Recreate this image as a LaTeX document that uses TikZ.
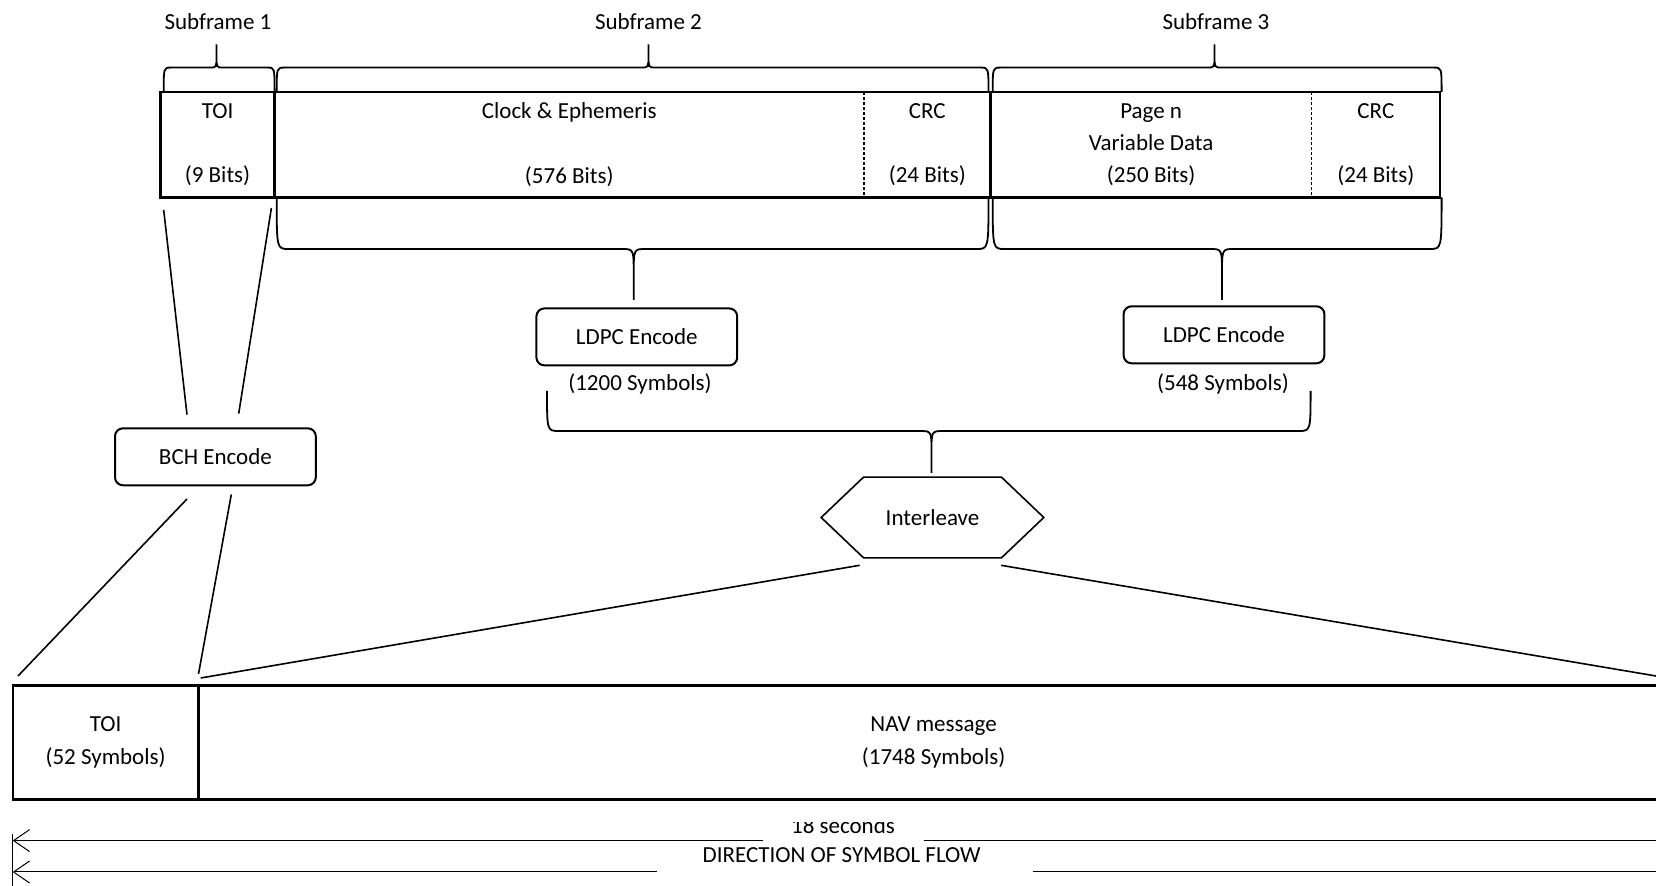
\documentclass[tikz,border=0pt]{standalone}
\usepackage{fontspec}
\setmainfont{Carlito}
\usetikzlibrary{positioning,arrows.meta}

% brace in the Word style: x1, x2, xtip, yend, ybar, ytip, rounding
\newcommand{\wbrace}[7]{%
  \draw[bracket] (#1,#4) .. controls (#1,#5) .. ({#1+#7},#5) -- ({#3-#7},#5)
    .. controls (#3,#5) .. (#3,{#5+0.5*(#6-#5)}) -- (#3,#6) -- (#3,{#5+0.5*(#6-#5)})
    .. controls (#3,#5) .. ({#3+#7},#5) -- ({#2-#7},#5) .. controls (#2,#5) .. (#2,#4);}

\tikzset{
  field/.style={inner sep=0pt, outer sep=0pt, minimum height=52.75pt, align=center},
  frame/.style={line width=1.2pt},
  divider/.style={line width=0.7pt, dash pattern=on 1.5pt off 1pt},
  coder/.style={draw, line width=1pt, rounded corners=4pt, minimum width=100.4pt,
    minimum height=28.5pt, inner sep=0pt},
  feed/.style={line width=0.8pt},
  bracket/.style={line width=0.9pt},
  flow/.style={line width=0.5pt, -{Straight Barb[length=8pt,width=11pt]}},
}

\begin{document}
\begin{tikzpicture}[x=0.5pt, y=-0.5pt, font=\fontsize{11.5}{16.1}\selectfont]

	\useasboundingbox (0,0) rectangle (1656,886);

	% Message fields

	\node[field, anchor=north west, minimum width=57.05pt] (toi) at (160.5,92) {TOI\\[16.1pt](9 Bits)};
	\node[field, minimum width=294.7pt, right=0pt of toi] (clock) {Clock \& Ephemeris\\[16.1pt](576 Bits)};
	\node[field, minimum width=63.3pt, right=0pt of clock] (crca) {CRC\\[16.1pt](24 Bits)};
	\node[field, minimum width=160.55pt, right=0pt of crca] (page) {Page n\\Variable Data\\(250 Bits)};
	\node[field, minimum width=64.15pt, right=0pt of page] (crcb) {CRC\\[16.1pt](24 Bits)};

	\draw[frame] (toi.north west) rectangle (toi.south east);
	\draw[frame] (clock.north west) rectangle (crca.south east);
	\draw[frame] (page.north west) rectangle (crcb.south east);
	\draw[divider] (clock.north east) -- (clock.south east);
	\draw[divider] (page.north east) -- (page.south east);

	% Subframe braces

	\node (sfa) at (218,21.5) {Subframe 1};
	\node (sfb) at (648.5,21.5) {Subframe 2};
	\node (sfc) at (1216,21.5) {Subframe 3};
	\wbrace{163.7}{274.6}{216.5}{92}{67.6}{44.4}{7}
	\wbrace{276.7}{988.5}{648.5}{92}{67.6}{44.4}{8}
	\wbrace{992.7}{1441.6}{1214.5}{92}{67.6}{44.4}{8}

	\wbrace{276.7}{988.5}{633.7}{197.5}{249}{300}{12}
	\wbrace{992.7}{1441.6}{1222}{197.5}{249}{300}{12}
	\wbrace{547}{1310.6}{931.5}{390.8}{431}{473}{12}

	% Encoders

	\node[coder] (ldpca) at (636.8,336.9) {LDPC Encode};
	\node (syma) at (640,384) {(1200 Symbols)};
	\node[coder] (ldpcb) at (1224,334.8) {LDPC Encode};
	\node (symb) at (1223,384) {(548 Symbols)};
	\node[coder] (bch) at (215.4,456.8) {BCH Encode};

	\node[minimum width=110.9pt, minimum height=40pt, inner sep=0pt] (ilv) at (932.5,517.5) {Interleave};
	\draw[feed] (ilv.west) -- ([xshift=21.2pt]ilv.north west) -- ([xshift=-21.2pt]ilv.north east)
		-- (ilv.east) -- ([xshift=-21.2pt]ilv.south east) -- ([xshift=21.2pt]ilv.south west) -- cycle;

	% Symbol frame

	\node[draw, frame, anchor=north west, inner sep=0pt, outer sep=0pt, minimum width=92.9pt,
		minimum height=57.05pt, align=center] (toib) at (12.7,685.4) {TOI\\(52 Symbols)};
	\node[right=0pt of toib, inner sep=0pt, outer sep=0pt, minimum width=735.1pt,
		minimum height=57.05pt, align=center] (nav) {NAV message\\(1748 Symbols)};
	\draw[frame] (toib.north east) -- ([xshift=-6.35pt]nav.north east);
	\draw[frame] (toib.south east) -- ([xshift=-6.35pt]nav.south east);

	% Fan lines

	\draw[feed] ([xshift=1.6pt,yshift=-6.25pt]toi.south west) -- ([xshift=36.5pt,yshift=6.35pt]bch.north west);
	\draw[feed] ([xshift=-1.6pt,yshift=-5.25pt]toi.south east) -- ([xshift=62.35pt,yshift=6.85pt]bch.north west);
	\draw[feed] ([xshift=36.5pt,yshift=-6.35pt]bch.south west) -- ([xshift=2.65pt,yshift=4.7pt]toib.north west);
	\draw[feed] ([xshift=58.65pt,yshift=-4.1pt]bch.south west) -- ([yshift=5.7pt]toib.north east);
	\draw[feed] ([xshift=-36.4pt,yshift=-3.7pt]ilv.south) -- ([xshift=1.1pt,yshift=3.7pt]nav.north west);
	\draw[feed] ([xshift=34.25pt,yshift=-3.7pt]ilv.south) -- ([xshift=-6.35pt,yshift=4.7pt]nav.north east);

	% Flow arrows

	\draw[line width=0.6pt] ([yshift=-17.25pt]toib.south west) -- ++(0,52);
	\begin{scope}
		\clip (700,822.5) rectangle (1000,886);
		\node (secs) at (843,825.5) {18 seconds};
	\end{scope}
	\draw[flow] (763,840.6) -- (12.7,840.6);
	\draw[line width=0.5pt] (923.5,840.6) -- (1656,840.6);
	\node (dir) at (841.7,855.5) {DIRECTION OF SYMBOL FLOW};
	\draw[flow] (657,872) -- (12.7,872);
	\draw[line width=0.5pt] (1032.5,872) -- (1656,872);

\end{tikzpicture}
\end{document}
